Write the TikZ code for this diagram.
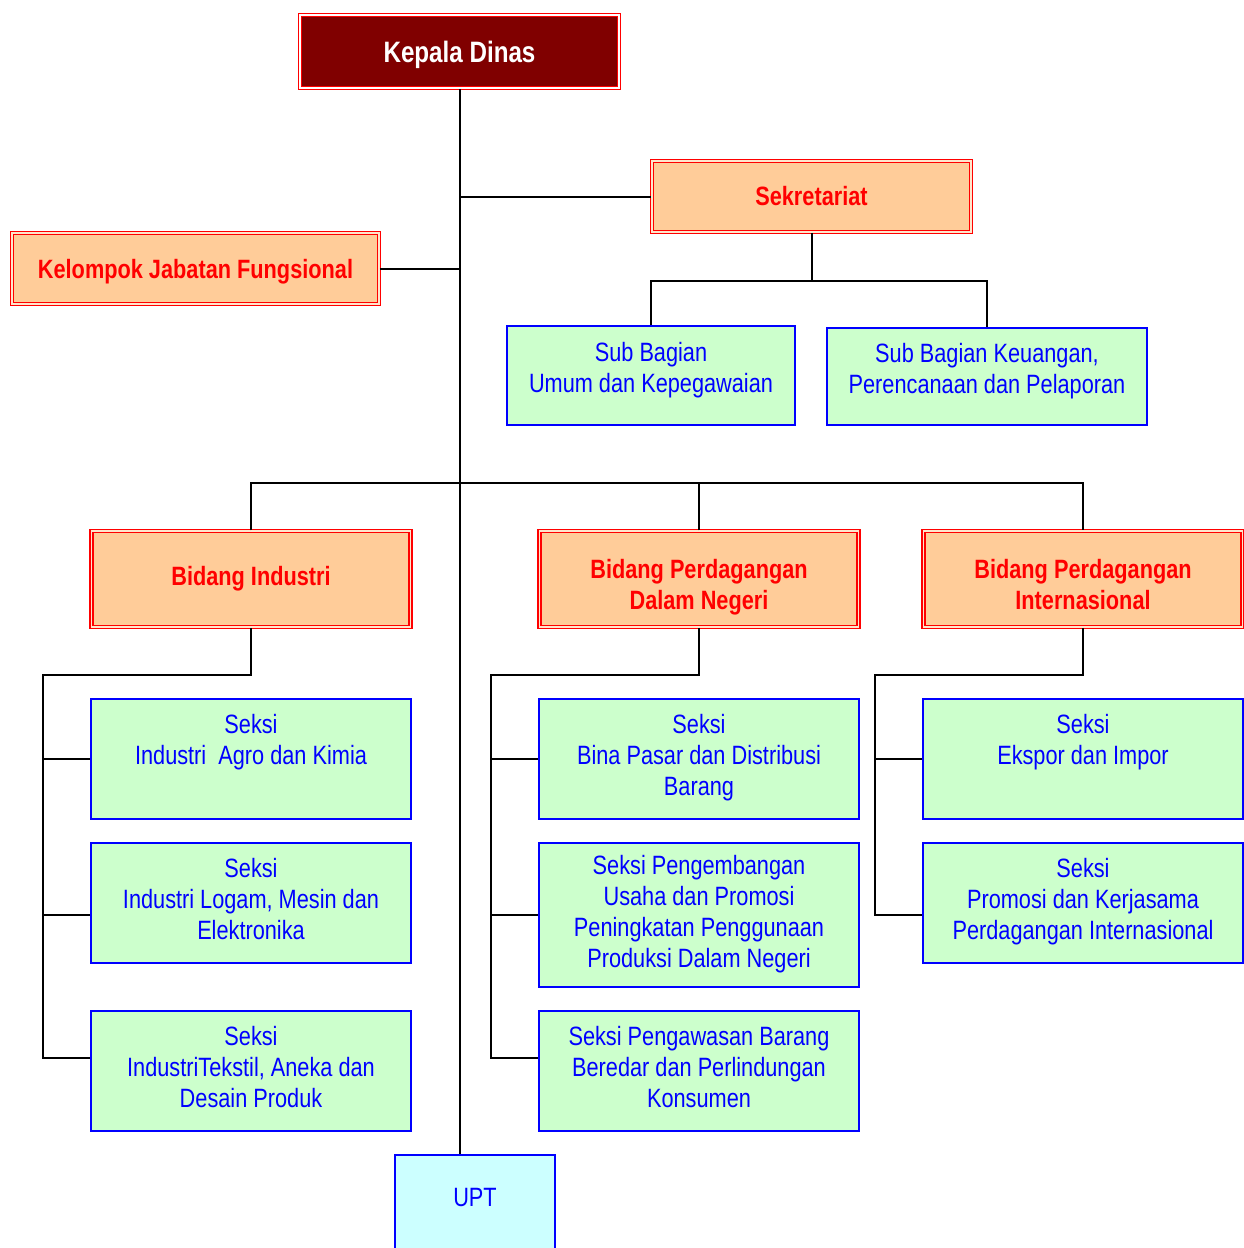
\documentclass[tikz,border=0pt]{standalone}
\usepackage{fontspec}
\setmainfont[FakeStretch=0.82]{Liberation Sans}
\usetikzlibrary{positioning}

\definecolor{kepalared}{HTML}{800000}
\definecolor{peach}{HTML}{FFCC99}
\definecolor{seksigreen}{HTML}{CCFFCC}
\definecolor{uptcyan}{HTML}{CCFFFF}
\definecolor{linkblue}{HTML}{0000FF}

\newcommand{\orgfont}{\fontsize{26.5}{31}\selectfont}

\begin{document}
\begin{tikzpicture}[x=1pt,y=-1pt]
        \useasboundingbox (0,0) rectangle (1243,1248);

        % kepala and bidang level
        \begin{scope}[every node/.style={draw=red,line width=1.5pt,double=white!50!peach,
            double distance=1.5pt,fill=peach,text=red,font=\orgfont\bfseries,
            align=center,inner sep=0pt,minimum width=319pt,minimum height=71pt}]
          \node[fill=kepalared,text=white,double=white,minimum height=73pt,text depth=0pt,
                font=\fontsize{29.5}{34}\selectfont\bfseries] (kepala) at (459.5,51.5) {Kepala Dinas};
          \node (sekretariat) at (811.5,196.5) {Sekretariat};
          \node[minimum width=367pt,text depth=0pt] (kelompok) at (195.5,268.5) {Kelompok Jabatan Fungsional};
          \node[minimum height=96pt] (bidind) at (251,579) {Bidang Industri};
          \node[minimum height=96pt,text height=60pt,text depth=0pt] (bidpdn) at (699,579)
            {Bidang Perdagangan\\Dalam Negeri};
          \node[minimum height=96pt,text height=60pt,text depth=0pt] (bidint) at (1083,579)
            {Bidang Perdagangan\\Internasional};
        \end{scope}

        % sub bagian and seksi
        \begin{scope}[every node/.style={draw=linkblue,line width=2pt,fill=seksigreen,
            text=linkblue,font=\orgfont,align=center,inner sep=0pt,text depth=8pt,
            minimum width=320pt,minimum height=120pt}]
          \node[minimum width=288pt,minimum height=99pt,text depth=0pt] (subumum) at (651,375.5)
            {Sub Bagian\\Umum dan Kepegawaian\\[-15pt]\mbox{}};
          \node[minimum height=97pt,text depth=0pt] (subkeu) at (987,376.5)
            {Sub Bagian Keuangan,\\Perencanaan dan Pelaporan\\[-15pt]\mbox{}};
          \node (ind1) at (251,759) {Seksi\\Industri\ \ Agro dan Kimia\\\mbox{}};
          \node (ind2) at (251,903) {Seksi\\Industri Logam, Mesin dan\\Elektronika};
          \node (ind3) at (251,1071) {Seksi\\IndustriTekstil, Aneka dan\\Desain Produk};
          \node (pdn1) at (699,759) {Seksi\\Bina Pasar dan Distribusi\\Barang};
          \node[minimum height=144pt] (pdn2) at (699,915)
            {Seksi Pengembangan\\Usaha dan Promosi\\Peningkatan Penggunaan\\Produksi Dalam Negeri};
          \node (pdn3) at (699,1071) {Seksi Pengawasan Barang\\Beredar dan Perlindungan\\Konsumen};
          \node (int1) at (1083,759) {Seksi\\Ekspor dan Impor\\\mbox{}};
          \node (int2) at (1083,903) {Seksi\\Promosi dan Kerjasama\\Perdagangan Internasional};
          \node[fill=uptcyan,minimum width=160pt,text depth=0pt] (upt) at (475,1215) {UPT\\[5pt]\mbox{}};
        \end{scope}

        \coordinate (sekjoint) at (811.5,281);
        \coordinate (bidbus)   at (459,483);
        \coordinate (indbus)   at (43,675);
        \coordinate (pdnbus)   at (491,675);
        \coordinate (intbus)   at (875,675);

        \begin{scope}[line width=2pt]
          \draw (kepala.south) -- (kepala.south |- upt.north);
          \draw (kepala.south |- sekretariat.west) -- (sekretariat.west);
          \draw (kelompok.east) -- (kelompok.east -| kepala.south);
          \draw (sekretariat.south) -- (sekjoint);
          \draw (subumum.north) |- (sekjoint) -| (subkeu.north);
          \draw (bidind.north) |- (bidbus) -| (bidint.north);
          \draw (bidpdn.north) -- (bidpdn.north |- bidbus);

          \draw (bidind.south) |- (indbus) |- ([yshift=13pt]ind3.west);
          \draw (indbus |- ind1.west) -- (ind1.west);
          \draw (indbus |- ind2.west) ++(0,12) -- ([yshift=-12pt]ind2.west);

          \draw (bidpdn.south) |- (pdnbus) |- ([yshift=13pt]pdn3.west);
          \draw (pdnbus |- pdn1.west) -- (pdn1.west);
          \draw (pdnbus |- pdn2.west) -- (pdn2.west);

          \draw (bidint.south) |- (intbus) |- ([yshift=-12pt]int2.west);
          \draw (intbus |- int1.west) -- (int1.west);
        \end{scope}

      \end{tikzpicture}
\end{document}
